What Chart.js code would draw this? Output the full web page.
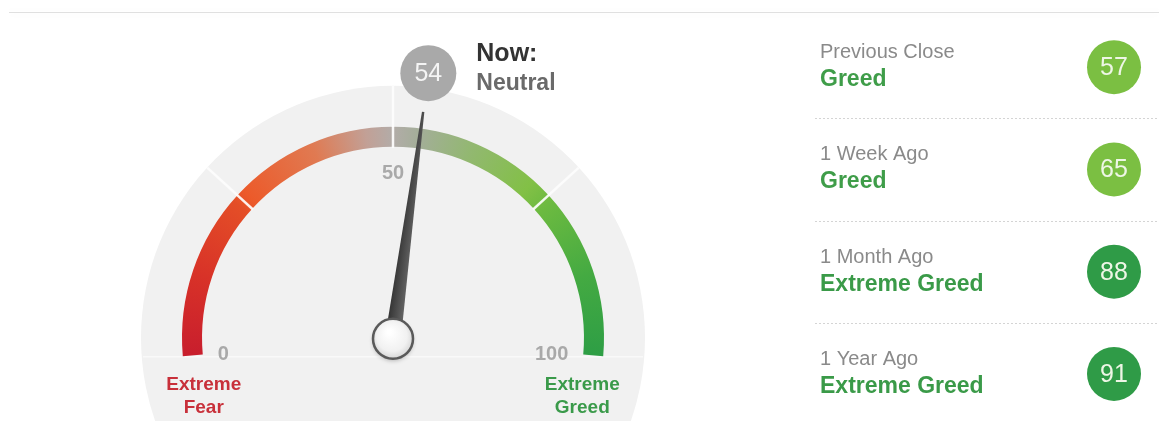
<!DOCTYPE html>
<html>
<head>
<meta charset="utf-8">
<title>Fear &amp; Greed Index</title>
<script src="https://cdn.jsdelivr.net/npm/chart.js@4.4.1/dist/chart.umd.min.js"></script>
<style>
  html, body { margin: 0; padding: 0; background: #fff; }
  body { width: 1159px; height: 421px; overflow: hidden; position: relative; }
  .topline { position: absolute; left: 9px; right: 0; top: 12px; height: 1px; background: #e0e0e0; box-shadow: 0 -3px 3px #fafafa, 0 3px 4px #f8f8f8; }
  #gaugeChart { position: absolute; left: 0; top: 0; }
  #historyChart { position: absolute; left: 800px; top: 16px; }
</style>
</head>
<body>
<div class="topline"></div>
<canvas id="gaugeChart" width="780" height="421"></canvas>
<canvas id="historyChart" width="359" height="409"></canvas>
<script>
// dial: 0-100 split in quarters
const zoneSizes = [25, 25, 25, 25];
const dialTicks = [0, 50, 100];
const endLabels = [['Extreme', 'Fear'], ['Extreme', 'Greed']];
const nowValue = 54;
const nowRating = 'Neutral';

// right hand list
const historyLabels = ['Previous Close', '1 Week Ago', '1 Month Ago', '1 Year Ago'];
const historyValues = [57, 65, 88, 91];
const historyRatings = ['Greed', 'Greed', 'Extreme Greed', 'Extreme Greed'];

const FONT = '"Liberation Sans", Arial, sans-serif';
const ratingColors = { 'Neutral': '#a9a9a9', 'Greed': '#7bbf42', 'Extreme Greed': '#2f9b47' };
const ratingTextColors = { 'Neutral': '#6a6a6a', 'Greed': '#3f9d49', 'Extreme Greed': '#3a9a48' };
const endColors = ['#c8303a', '#3a9a4a'];

// colour along the dial (dial value -> colour)
const dialStops = [
    [0, '#c81e2d'], [12, '#d83228'], [24, '#e44e27'], [26, '#ec5a2a'],
    [38, '#e07a52'], [46, '#c2a096'], [50, '#b2aca8'], [54, '#a3ae98'],
    [62, '#92b870'], [72, '#82c046'], [76, '#6cba40'], [88, '#44aa42'], [100, '#2e9e45']
];
const DIAL_ROTATION = -95;
const DIAL_SWEEP = 190;
const DISK_RADIUS = 252;

function dialGradient(c) {
    const chart = c.chart;
    const area = chart.chartArea;
    const ctrl = chart.getDatasetMeta(0).controller;
    if (!area || !ctrl) return '#bbb';
    const cx = (area.left + area.right) / 2 + (ctrl.offsetX || 0);
    const cy = (area.top + area.bottom) / 2 + (ctrl.offsetY || 0);
    const start = (DIAL_ROTATION - 90) * Math.PI / 180;
    const g = chart.ctx.createConicGradient(start, cx, cy);
    dialStops.forEach(([v, col]) => g.addColorStop(v / 100 * DIAL_SWEEP / 360, col));
    g.addColorStop(DIAL_SWEEP / 360 + 0.01, '#2e9e45');
    g.addColorStop(1, '#c81e2d');
    return g;
}

const dialPlugin = {
    id: 'dial',
    beforeDatasetsDraw(chart) {
        const ctx = chart.ctx;
        const arc = chart.getDatasetMeta(0).data[0];
        const cx = arc.x, cy = arc.y;
        ctx.save();
        // grey face behind the dial
        ctx.fillStyle = '#f1f1f1';
        ctx.beginPath();
        ctx.arc(cx, cy, DISK_RADIUS, 0, Math.PI * 2);
        ctx.fill();
        ctx.strokeStyle = 'rgba(255,255,255,0.6)';
        ctx.lineWidth = 1.5;
        ctx.beginPath();
        ctx.moveTo(cx - 250, cy + 19);
        ctx.lineTo(cx + 250, cy + 19);
        ctx.stroke();
        ctx.restore();
    },
    afterDatasetsDraw(chart) {
        const ctx = chart.ctx;
        const arcs = chart.getDatasetMeta(0).data;
        const first = arcs[0], last = arcs[arcs.length - 1];
        const cx = first.x, cy = first.y;
        const start = first.startAngle;
        const sweep = last.endAngle - start;
        const angleOf = v => start + (v / 100) * sweep;

        ctx.save();

        // zone dividers
        let acc = 0;
        zoneSizes.slice(0, -1).forEach(size => {
            acc += size;
            const a = angleOf(acc);
            const c = Math.cos(a), s = Math.sin(a);
            ctx.lineWidth = 2.5;
            ctx.strokeStyle = 'rgba(255,255,255,0.9)';
            ctx.beginPath();
            ctx.moveTo(cx + c * (first.innerRadius - 1), cy + s * (first.innerRadius - 1));
            ctx.lineTo(cx + c * (first.outerRadius + 1), cy + s * (first.outerRadius + 1));
            ctx.stroke();
            ctx.strokeStyle = 'rgba(255,255,255,0.75)';
            ctx.beginPath();
            ctx.moveTo(cx + c * first.outerRadius, cy + s * first.outerRadius);
            ctx.lineTo(cx + c * DISK_RADIUS, cy + s * DISK_RADIUS);
            ctx.stroke();
        });

        // tick numbers
        ctx.font = 'bold 20px ' + FONT;
        ctx.fillStyle = '#a9a9a9';
        ctx.textBaseline = 'middle';
        dialTicks.forEach(t => {
            const a = angleOf(t);
            const c = Math.cos(a);
            const r = Math.abs(c) > 0.5 ? 176 : 165;
            ctx.textAlign = c < -0.5 ? 'left' : (c > 0.5 ? 'right' : 'center');
            ctx.fillText(String(t), cx + r * c, cy + r * Math.sin(a) + 1);
        });

        // Extreme Fear / Extreme Greed
        ctx.font = 'bold 19px ' + FONT;
        ctx.textAlign = 'center';
        ctx.textBaseline = 'alphabetic';
        [0, 100].forEach((v, i) => {
            const x = cx + 190 * Math.cos(angleOf(v));
            ctx.fillStyle = endColors[i];
            ctx.fillText(endLabels[i][0], x, cy + 52);
            ctx.fillText(endLabels[i][1], x, cy + 75);
        });

        // needle
        const na = angleOf(nowValue);
        const ux = Math.cos(na), uy = Math.sin(na);
        const px = -uy, py = ux;
        const len = 228, base = 8, tip = 1.2;
        const ng = ctx.createLinearGradient(cx + px * base, cy + py * base, cx - px * base, cy - py * base);
        ng.addColorStop(0, '#666');
        ng.addColorStop(1, '#333');
        ctx.fillStyle = ng;
        ctx.beginPath();
        ctx.moveTo(cx + px * base, cy + py * base);
        ctx.lineTo(cx + ux * len + px * tip, cy + uy * len + py * tip);
        ctx.lineTo(cx + ux * len - px * tip, cy + uy * len - py * tip);
        ctx.lineTo(cx - px * base, cy - py * base);
        ctx.closePath();
        ctx.fill();

        // hub
        ctx.save();
        ctx.shadowColor = 'rgba(0,0,0,0.25)';
        ctx.shadowBlur = 4;
        ctx.shadowOffsetY = 2;
        const hg = ctx.createRadialGradient(cx - 4, cy - 6, 2, cx, cy, 21);
        hg.addColorStop(0, '#ffffff');
        hg.addColorStop(0.7, '#f1f1f1');
        hg.addColorStop(1, '#d6d6d6');
        ctx.fillStyle = hg;
        ctx.beginPath();
        ctx.arc(cx, cy + 1, 20, 0, Math.PI * 2);
        ctx.fill();
        ctx.restore();
        ctx.strokeStyle = '#5a5a5a';
        ctx.lineWidth = 2.5;
        ctx.beginPath();
        ctx.arc(cx, cy + 1, 20, 0, Math.PI * 2);
        ctx.stroke();

        // value bubble + "Now:" caption
        const bx = cx + ux * 267, by = cy + uy * 267;
        ctx.fillStyle = ratingColors[nowRating];
        ctx.beginPath();
        ctx.arc(bx, by, 28, 0, Math.PI * 2);
        ctx.fill();
        ctx.fillStyle = '#f4f4f4';
        ctx.font = '25px ' + FONT;
        ctx.textAlign = 'center';
        ctx.textBaseline = 'middle';
        ctx.fillText(String(nowValue), bx, by + 1);

        ctx.textAlign = 'left';
        ctx.textBaseline = 'alphabetic';
        ctx.fillStyle = '#333';
        ctx.font = 'bold 25px ' + FONT;
        ctx.fillText('Now:', bx + 48, by - 12);
        ctx.fillStyle = ratingTextColors[nowRating];
        ctx.font = 'bold 23px ' + FONT;
        ctx.fillText(nowRating, bx + 48, by + 17);

        ctx.restore();
    }
};

const historyPlugin = {
    id: 'historyText',
    beforeDatasetsDraw(chart) {
        const ctx = chart.ctx;
        const pts = chart.getDatasetMeta(0).data;
        ctx.save();
        ctx.strokeStyle = '#d4d4d4';
        ctx.lineWidth = 1;
        ctx.setLineDash([2, 2]);
        for (let i = 0; i < pts.length - 1; i++) {
            const y = Math.round((pts[i].y + pts[i + 1].y) / 2) + 0.5;
            ctx.beginPath();
            ctx.moveTo(15, y);
            ctx.lineTo(chart.width, y);
            ctx.stroke();
        }
        ctx.restore();
    },
    afterDatasetsDraw(chart) {
        const ctx = chart.ctx;
        ctx.save();
        chart.getDatasetMeta(0).data.forEach((pt, i) => {
            ctx.textAlign = 'left';
            ctx.textBaseline = 'alphabetic';
            ctx.fillStyle = '#8a8a8a';
            ctx.font = '20px ' + FONT;
            ctx.fillText(historyLabels[i], 20, pt.y - 9);
            ctx.fillStyle = ratingTextColors[historyRatings[i]];
            ctx.font = 'bold 23px ' + FONT;
            ctx.fillText(historyRatings[i], 20, pt.y + 19);

            ctx.textAlign = 'center';
            ctx.textBaseline = 'middle';
            ctx.fillStyle = '#eef6e6';
            ctx.font = '25px ' + FONT;
            ctx.fillText(String(historyValues[i]), pt.x, pt.y + 1);
        });
        ctx.restore();
    }
};

document.addEventListener('DOMContentLoaded', function() {
    new Chart(document.getElementById('gaugeChart'), {
        type: 'doughnut',
        data: {
            labels: zoneSizes.map((_, i) => 'zone ' + (i + 1)),
            datasets: [{
                data: zoneSizes,
                backgroundColor: dialGradient,
                borderWidth: 0,
                rotation: DIAL_ROTATION,
                circumference: DIAL_SWEEP,
                radius: 211,
                cutout: '90.5%'
            }]
        },
        options: {
            responsive: false,
            animation: false,
            events: [],
            layout: { padding: { left: 6, top: 62 } },
            plugins: {
                legend: { display: false },
                tooltip: { enabled: false }
            }
        },
        plugins: [dialPlugin]
    });

    new Chart(document.getElementById('historyChart'), {
        type: 'scatter',
        data: {
            datasets: [{
                data: historyLabels.map(label => ({ x: 'score', y: label })),
                pointRadius: 27,
                pointBorderWidth: 0,
                pointBackgroundColor: c => ratingColors[historyRatings[c.dataIndex]],
                clip: false
            }]
        },
        options: {
            responsive: false,
            animation: false,
            events: [],
            layout: { autoPadding: false, padding: { left: 269, right: 0, top: 0, bottom: 0 } },
            scales: {
                x: { type: 'category', labels: ['score'], offset: true, display: false },
                y: { type: 'category', labels: historyLabels, offset: true, display: false }
            },
            plugins: {
                legend: { display: false },
                tooltip: { enabled: false }
            }
        },
        plugins: [historyPlugin]
    });
});
</script>
</body>
</html>
